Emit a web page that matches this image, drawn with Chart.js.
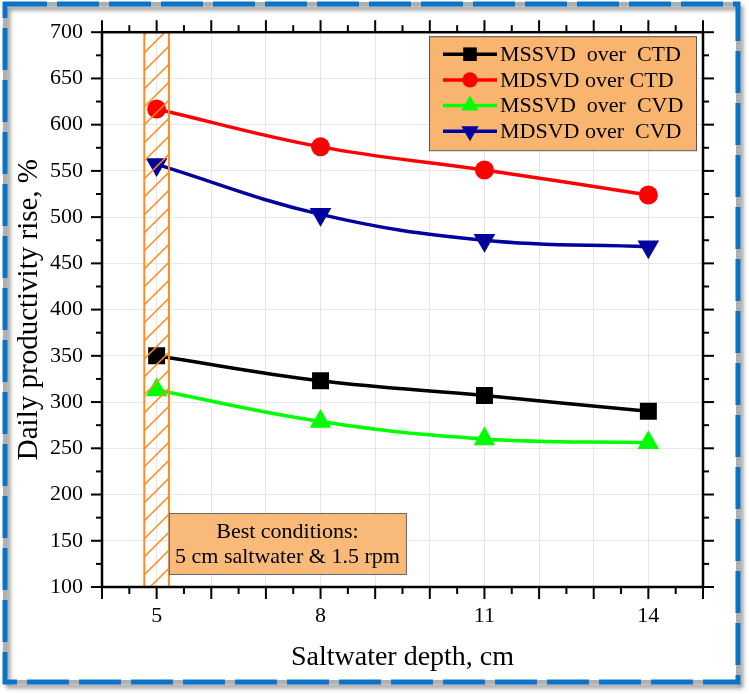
<!DOCTYPE html>
<html>
<head>
<meta charset="utf-8">
<script src="https://cdn.jsdelivr.net/npm/chart.js@4.4.1/dist/chart.umd.min.js"></script>
<style>
  html, body { margin: 0; padding: 0; background: #fff; }
  #wrap { width: 749px; height: 694px; }
</style>
</head>
<body>
<div id="wrap"><canvas id="chart"></canvas></div>
<script>
const depths = [5, 8, 11, 14];
const mssvdOverCtd = [350, 323, 307, 290];
const mdsvdOverCtd = [617, 576, 551, 524];
const mssvdOverCvd = [313, 279, 260, 256];
const mdsvdOverCvd = [557, 503, 475, 468];
const xTickLabels = [5, 8, 11, 14];
const seriesNames = ['MSSVD  over  CTD', 'MDSVD over CTD', 'MSSVD  over  CVD', 'MDSVD over  CVD'];
const bestBand = [4.775, 5.225];
const noteLines = ['Best conditions:', '5 cm saltwater & 1.5 rpm'];

const serif = "'Liberation Serif', 'DejaVu Serif', serif";

function pts(vals) {
    return depths.map((d, i) => ({ x: d, y: vals[i] }));
}

function line(ctx, x1, y1, x2, y2) {
    ctx.beginPath();
    ctx.moveTo(x1, y1);
    ctx.lineTo(x2, y2);
    ctx.stroke();
}

const decorations = {
    id: 'decorations',
    beforeDraw(chart) {
        const ctx = chart.ctx;
        ctx.save();
        ctx.fillStyle = '#fff';
        ctx.fillRect(0, 0, chart.width, chart.height);
        // dashed frame with shadow
        ctx.shadowColor = 'rgba(0,0,0,0.45)';
        ctx.shadowBlur = 4;
        ctx.shadowOffsetX = 3;
        ctx.shadowOffsetY = 4;
        ctx.lineWidth = 4;
        ctx.strokeStyle = '#b0b0b0';
        ctx.strokeRect(5, 4, 733, 678);
        ctx.shadowColor = 'transparent';
        ctx.setLineDash([42, 10]);
        ctx.lineWidth = 5;
        ctx.strokeStyle = '#0b74c9';
        ctx.strokeRect(5, 4, 733, 678);
        ctx.restore();
    },
    afterDatasetsDraw(chart) {
        const { ctx, chartArea: a, scales: { x } } = chart;
        const l = x.getPixelForValue(bestBand[0]);
        const r = x.getPixelForValue(bestBand[1]);
        ctx.save();
        ctx.beginPath();
        ctx.rect(l, a.top, r - l, a.bottom - a.top);
        ctx.clip();
        ctx.strokeStyle = '#ff8c1a';
        ctx.lineWidth = 1.5;
        for (let yy = a.top - 40; yy < a.bottom + 40; yy += 18) {
            line(ctx, l, yy + (r - l), r, yy);
        }
        ctx.restore();
        ctx.save();
        ctx.strokeStyle = '#ff8c1a';
        ctx.lineWidth = 2;
        ctx.strokeRect(l, a.top, r - l, a.bottom - a.top);
        ctx.restore();
    },
    afterDraw(chart) {
        const { ctx, chartArea: a, scales: { x, y } } = chart;
        ctx.save();
        // axis box and ticks
        ctx.strokeStyle = '#000';
        ctx.lineWidth = 2.5;
        ctx.strokeRect(a.left, a.top, a.right - a.left, a.bottom - a.top);
        ctx.lineWidth = 2;
        for (let v = x.min; v <= x.max + 1e-9; v += 0.5) {
            const px = x.getPixelForValue(v);
            const len = Number.isInteger(v) ? 12 : 7;
            line(ctx, px, a.bottom, px, a.bottom + len);
            line(ctx, px, a.top, px, a.top - len);
        }
        for (let v = y.min; v <= y.max; v += 25) {
            const py = y.getPixelForValue(v);
            const len = v % 50 === 0 ? 11 : 6;
            line(ctx, a.left, py, a.left - len, py);
            line(ctx, a.right, py, a.right + len, py);
        }

        // legend
        const lx = a.right - 274, ly = a.top + 4, lw = 267, lh = 114;
        ctx.fillStyle = '#f9b46f';
        ctx.fillRect(lx, ly, lw, lh);
        ctx.strokeStyle = '#555';
        ctx.lineWidth = 1;
        ctx.strokeRect(lx + 0.5, ly + 0.5, lw, lh);
        ctx.font = '22px ' + serif;
        ctx.textBaseline = 'middle';
        ctx.textAlign = 'left';
        chart.data.datasets.forEach((ds, i) => {
            const yy = ly + 18 + i * 25.7;
            ctx.strokeStyle = ds.borderColor;
            ctx.fillStyle = ds.borderColor;
            ctx.lineWidth = 3.5;
            line(ctx, lx + 14, yy, lx + 68, yy);
            Chart.helpers.drawPoint(ctx, {
                pointStyle: ds.pointStyle,
                radius: ds.pointRadius * 0.8,
                rotation: ds.pointRotation || 0,
                borderWidth: 0
            }, lx + 41, yy);
            ctx.fillStyle = '#000';
            ctx.fillText(ds.label, lx + 71, yy + 1);
        });

        // note box
        const nl = x.getPixelForValue(bestBand[1]);
        const nt = a.bottom - 74, nw = 237, nh = 61;
        ctx.fillStyle = '#f8b979';
        ctx.fillRect(nl, nt, nw, nh);
        ctx.strokeStyle = '#666';
        ctx.lineWidth = 1;
        ctx.strokeRect(nl + 0.5, nt + 0.5, nw, nh);
        ctx.fillStyle = '#000';
        ctx.font = '22px ' + serif;
        ctx.textAlign = 'center';
        ctx.fillText(noteLines[0], nl + nw / 2, nt + 19);
        ctx.fillText(noteLines[1], nl + nw / 2, nt + 44);
        ctx.restore();
    }
};

const common = { borderWidth: 3.5, tension: 0.4, pointBorderWidth: 0 };

new Chart(document.getElementById('chart'), {
    type: 'line',
    data: {
        datasets: [{
            label: seriesNames[0],
            data: pts(mssvdOverCtd),
            borderColor: '#000000',
            backgroundColor: '#000000',
            pointStyle: 'rect',
            pointRadius: 12,
            ...common
        }, {
            label: seriesNames[1],
            data: pts(mdsvdOverCtd),
            borderColor: '#ff0000',
            backgroundColor: '#ff0000',
            pointStyle: 'circle',
            pointRadius: 9.5,
            ...common
        }, {
            label: seriesNames[2],
            data: pts(mssvdOverCvd),
            borderColor: '#00ff00',
            backgroundColor: '#00ff00',
            pointStyle: 'triangle',
            pointRadius: 12.5,
            ...common
        }, {
            label: seriesNames[3],
            data: pts(mdsvdOverCvd),
            borderColor: '#00009e',
            backgroundColor: '#00009e',
            pointStyle: 'triangle',
            pointRotation: 180,
            pointRadius: 12.5,
            ...common
        }]
    },
    options: {
        responsive: true,
        maintainAspectRatio: false,
        animation: false,
        layout: { padding: { top: 28, right: 46, left: 0, bottom: 0 } },
        plugins: {
            legend: { display: false },
            tooltip: { enabled: false }
        },
        scales: {
            x: {
                type: 'linear',
                min: 4,
                max: 15,
                afterFit: s => { s.height = 107; },
                ticks: {
                    stepSize: 1,
                    autoSkip: false,
                    maxRotation: 0,
                    padding: 16,
                    color: '#000',
                    font: { family: serif, size: 22 },
                    callback: v => xTickLabels.includes(v) ? String(v) : ''
                },
                grid: { color: '#e6e6e6', lineWidth: 1, drawTicks: false },
                border: { display: false },
                title: {
                    display: true,
                    text: 'Saltwater depth, cm',
                    color: '#000',
                    font: { family: serif, size: 28 },
                    padding: { bottom: 20 }
                }
            },
            y: {
                min: 100,
                max: 700,
                afterFit: s => { s.width = 102; },
                ticks: {
                    stepSize: 50,
                    padding: 19,
                    color: '#000',
                    font: { family: serif, size: 22 }
                },
                grid: { color: '#e6e6e6', lineWidth: 1, drawTicks: false },
                border: { display: false },
                title: {
                    display: true,
                    text: 'Daily productivity rise, %',
                    color: '#000',
                    font: { family: serif, size: 29 },
                    padding: { top: 12 }
                }
            }
        }
    },
    plugins: [decorations]
});
</script>
</body>
</html>
